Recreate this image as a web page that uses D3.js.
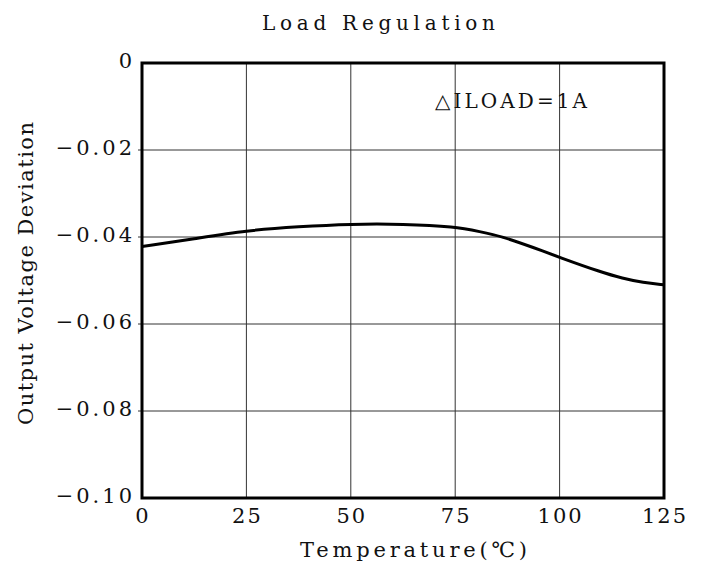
<!DOCTYPE html>
<html>
<head>
<meta charset="utf-8">
<script src="https://cdn.jsdelivr.net/npm/d3@7"></script>
<style>
  body { margin: 0; background: #fff; }
  text { font-family: "DejaVu Serif", "Liberation Serif", serif; fill: #111; }
</style>
</head>
<body>
<div id="container"></div>
<script>
// data
const temps = [0, 12.5, 25, 37.5, 50, 62.5, 75, 81, 86, 94, 100, 110, 115, 120, 125];
const deviation = [-0.0422, -0.0404, -0.0385, -0.0376, -0.0370, -0.0370, -0.0376, -0.0388, -0.0398, -0.0425, -0.0447, -0.0481, -0.0495, -0.0505, -0.0510];
const xTicks = [0, 25, 50, 75, 100, 125];
const yTicks = [0, -0.02, -0.04, -0.06, -0.08, -0.10];
const yTickLabels = ["0", "\u22120.02", "\u22120.04", "\u22120.06", "\u22120.08", "\u22120.10"];

const width = 714, height = 568,
    margin = { top: 63, bottom: 70, left: 142, right: 50 };
const spacing = 2;

const svg = d3.select("#container")
    .append("svg")
    .attr("width", width)
    .attr("height", height);

const x = d3.scaleLinear()
    .domain([0, 125])
    .range([margin.left, width - margin.right]);

const y = d3.scaleLinear()
    .domain([-0.10, 0])
    .range([height - margin.bottom, margin.top]);

// grid
svg.append("g")
    .selectAll("line")
    .data(xTicks.slice(1, -1))
    .join("line")
    .attr("x1", d => x(d)).attr("x2", d => x(d))
    .attr("y1", y(0)).attr("y2", y(-0.10))
    .attr("stroke", "#333")
    .attr("stroke-width", 1);

svg.append("g")
    .selectAll("line")
    .data(yTicks.slice(1, -1))
    .join("line")
    .attr("x1", x(0) - 4).attr("x2", x(125))
    .attr("y1", d => y(d)).attr("y2", d => y(d))
    .attr("stroke", "#333")
    .attr("stroke-width", 1);

// curve
const line = d3.line()
    .x((d, i) => x(temps[i]))
    .y(d => y(d))
    .curve(d3.curveBasis);

svg.append("path")
    .datum(deviation)
    .attr("d", line)
    .attr("fill", "none")
    .attr("stroke", "#000")
    .attr("stroke-width", 3);

// frame
svg.append("rect")
    .attr("x", x(0)).attr("y", y(0))
    .attr("width", x(125) - x(0))
    .attr("height", y(-0.10) - y(0))
    .attr("fill", "none")
    .attr("stroke", "#000")
    .attr("stroke-width", 3);

// tick labels
svg.append("g")
    .selectAll("text")
    .data(xTicks)
    .join("text")
    .attr("x", d => x(d) + spacing / 2)
    .attr("y", y(-0.10) + 25)
    .attr("text-anchor", "middle")
    .style("font-size", "21px")
    .style("letter-spacing", spacing + "px")
    .text(d => d);

svg.append("g")
    .selectAll("text")
    .data(yTicks)
    .join("text")
    .attr("x", x(0) - 9 + spacing)
    .attr("y", d => y(d) + 5)
    .attr("text-anchor", "end")
    .style("font-size", "21px")
    .style("letter-spacing", (spacing + 1) + "px")
    .text((d, i) => yTickLabels[i]);

// titles
svg.append("text")
    .attr("x", 262).attr("y", 30)
    .attr("textLength", 233)
    .attr("lengthAdjust", "spacing")
    .style("font-size", "20px")
    .text("Load  Regulation");

svg.append("text")
    .attr("x", 300).attr("y", 557)
    .attr("textLength", 227)
    .attr("lengthAdjust", "spacing")
    .style("font-size", "21px")
    .text("Temperature(\u2103)");

svg.append("text")
    .attr("transform", "translate(33,425) rotate(-90)")
    .attr("textLength", 303)
    .attr("lengthAdjust", "spacing")
    .style("font-size", "21px")
    .text("Output  Voltage  Deviation");

svg.append("text")
    .attr("x", 435).attr("y", 108)
    .attr("textLength", 152)
    .attr("lengthAdjust", "spacing")
    .style("font-size", "20px")
    .text("\u25B3ILOAD=1A");
</script>
</body>
</html>
